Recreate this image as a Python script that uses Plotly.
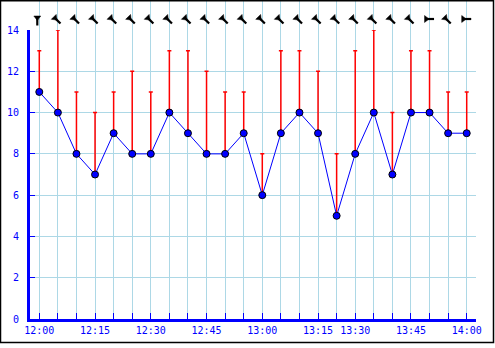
import math
import plotly.graph_objects as go

times = ["12:00", "12:05", "12:10", "12:15", "12:20", "12:25", "12:30", "12:35",
         "12:40", "12:45", "12:50", "12:55", "13:00", "13:05", "13:10", "13:15",
         "13:20", "13:30", "13:35", "13:40", "13:45", "13:50", "13:55", "14:00"]
speed = [11, 10, 8, 7, 9, 8, 8, 10, 9, 8, 8, 9, 6, 9, 10, 9, 5, 8, 10, 7, 10, 10, 9, 9]
gust = [13, 14, 11, 10, 11, 12, 11, 13, 13, 12, 11, 11, 8, 13, 13, 12, 8, 13, 14, 10, 13, 13, 11, 11]
# direction the wind arrow points (degrees clockwise from up)
arrow_angle = [180, 135, 135, 135, 135, 135, 135, 135, 135, 135, 135, 135,
               135, 135, 135, 135, 135, 135, 135, 135, 135, 90, 135, 90]
y_ticks = [0, 2, 4, 6, 8, 10, 12, 14]

idx = list(range(len(times)))
ticktext = [t if int(t.split(":")[1]) % 15 == 0 else "" for t in times]
BLUE = "#0000ff"
GRID = "#add8e6"
FONT = dict(family="DejaVu Sans Mono", size=10, color=BLUE)

W, H = 495, 348
L, R, T, B = 30, 19, 0, 29
pw, ph = W - L - R, H - T - B
PLOT_TOP = 30  # pixel row of the y=14 line
XR = [-0.5, 23.5]
px_per_cat = pw / (XR[1] - XR[0])

def px_x(p):
    return (p - L) / pw
def px_y(p):
    return (H - B - p) / ph

fig = go.Figure()
fig.add_trace(go.Scatter(
    x=idx, y=speed, mode="lines+markers",
    line=dict(color=BLUE, width=1),
    marker=dict(size=7, color=BLUE, line=dict(color="black", width=1)),
    error_y=dict(type="data", symmetric=False,
                 array=[g - s for g, s in zip(gust, speed)],
                 arrayminus=[0] * len(speed),
                 color="#ff0000", thickness=1.5, width=2),
    showlegend=False, hoverinfo="skip",
))

# wind arrows: arrowhead at the back, short stem in front
ROW_Y, SHIFT_X = 19, -2.0
HEAD_OFF, STEM_OFF = 1.5, 3.0
dirs = [(math.sin(math.radians(a)), -math.cos(math.radians(a))) for a in arrow_angle]
head_x = [i + (SHIFT_X - HEAD_OFF * dx) / px_per_cat for i, (dx, dy) in zip(idx, dirs)]
head_y = [ROW_Y - HEAD_OFF * dy for dx, dy in dirs]
stem_x = [i + (SHIFT_X + STEM_OFF * dx) / px_per_cat for i, (dx, dy) in zip(idx, dirs)]
stem_y = [ROW_Y + STEM_OFF * dy for dx, dy in dirs]
fig.add_trace(go.Scatter(
    x=stem_x, y=stem_y, mode="markers", yaxis="y2",
    marker=dict(symbol="line-ns", size=5, angle=arrow_angle,
                line=dict(width=2.2, color="black")),
    cliponaxis=False, showlegend=False, hoverinfo="skip",
))
fig.add_trace(go.Scatter(
    x=head_x, y=head_y, mode="markers", yaxis="y2",
    marker=dict(symbol="triangle-up", size=6, angle=arrow_angle, color="black",
                line=dict(width=0.5, color="black")),
    cliponaxis=False, showlegend=False, hoverinfo="skip",
))

fig.add_shape(type="rect", xref="paper", yref="paper",
              x0=px_x(0.5), x1=px_x(493.5), y0=px_y(342.5), y1=px_y(0.75),
              line=dict(color="black", width=1.5), layer="above")

fig.update_layout(
    width=W, height=H,
    margin=dict(l=L, r=R, t=T, b=B, pad=0, autoexpand=False),
    paper_bgcolor="white", plot_bgcolor="white",
    xaxis=dict(range=XR, tickmode="array", tickvals=idx, ticktext=ticktext,
               showgrid=True, gridcolor=GRID, gridwidth=1,
               ticks="inside", ticklen=6, tickcolor=BLUE, tickwidth=1,
               showline=True, linecolor=BLUE, linewidth=3, automargin=False,
               tickfont=FONT, zeroline=False, fixedrange=True),
    yaxis=dict(domain=[0, px_y(PLOT_TOP)], range=[0, 14], tickmode="array", tickvals=y_ticks,
               showgrid=True, gridcolor=GRID, gridwidth=1,
               ticks="inside", ticklen=5, tickcolor=BLUE, tickwidth=1,
               showline=True, linecolor=BLUE, linewidth=3, automargin=False,
               tickfont=FONT, zeroline=False, ticklabelstandoff=6, fixedrange=True),
    yaxis2=dict(domain=[px_y(PLOT_TOP), 1], range=[PLOT_TOP, 0], visible=False,
                fixedrange=True, anchor="x", automargin=False),
)

fig.write_html("out.html", config={"displayModeBar": False})
